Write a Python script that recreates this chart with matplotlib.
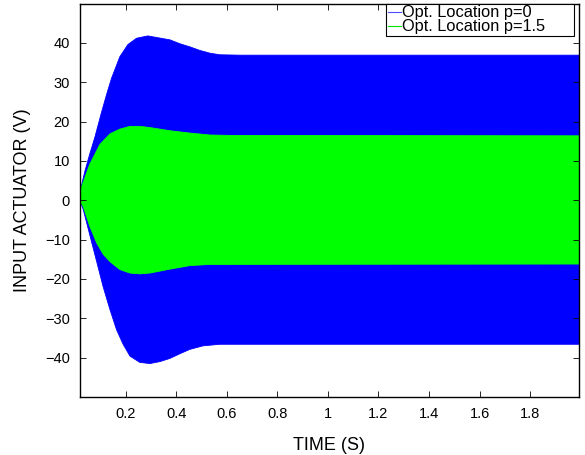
import matplotlib
matplotlib.use("Agg")
import matplotlib.pyplot as plt

# Envelope of the dense oscillating signals
blue_t_up = [0.017, 0.025, 0.038, 0.057, 0.077, 0.104, 0.124, 0.143, 0.176, 0.208,
             0.242, 0.287, 0.295, 0.374, 0.414, 0.454, 0.493, 0.533, 0.572, 0.65, 1.995]
blue_up = [0.2, 4.0, 7.5, 11.8, 16.0, 22.5, 27.0, 31.0, 36.5, 39.6,
           41.2, 41.8, 41.7, 40.8, 39.8, 39.0, 38.1, 37.4, 37.0, 36.9, 36.9]

blue_t_lo = [0.017, 0.031, 0.057, 0.084, 0.110, 0.137, 0.163, 0.189, 0.216, 0.255,
             0.295, 0.335, 0.374, 0.414, 0.453, 0.505, 0.572, 0.65, 1.995]
blue_lo = [0.0, -2.3, -8.8, -15.5, -22.0, -27.8, -32.9, -36.6, -39.6, -41.2,
           -41.5, -41.0, -40.2, -39.0, -37.9, -37.0, -36.6, -36.6, -36.6]

green_t_up = [0.017, 0.025, 0.057, 0.097, 0.137, 0.176, 0.216, 0.255, 0.295,
              0.374, 0.453, 0.533, 0.612, 1.995]
green_up = [0.5, 3.5, 9.2, 14.2, 16.9, 18.1, 18.8, 18.8, 18.5,
            17.7, 17.1, 16.6, 16.5, 16.4]

green_t_lo = [0.017, 0.031, 0.057, 0.084, 0.110, 0.137, 0.176, 0.216, 0.255,
              0.295, 0.374, 0.453, 0.533, 1.995]
green_lo = [0.0, -1.6, -6.6, -10.8, -13.7, -15.6, -17.6, -18.5, -18.7,
            -18.5, -17.5, -16.6, -16.3, -16.2]

labels = ["Opt. Location p=0", "Opt. Location p=1.5"]
xticks = [0.2, 0.4, 0.6, 0.8, 1.0, 1.2, 1.4, 1.6, 1.8]
xticklabels = ["0.2", "0.4", "0.6", "0.8", "1", "1.2", "1.4", "1.6", "1.8"]
yticks = [-40, -30, -20, -10, 0, 10, 20, 30, 40]
yticklabels = ["\u221240", "\u221230", "\u221220", "\u221210", "0", "10", "20", "30", "40"]

plt.rcParams['font.family'] = ['Liberation Sans', 'DejaVu Sans']

fig = plt.figure(figsize=(5.85, 4.55), dpi=100)
ax = fig.add_axes([0.1362, 0.1275, 0.854, 0.8645])


def fill_env(ax, t_up, up, t_lo, lo, color):
    xs = list(t_up) + list(t_lo)[::-1]
    ys = list(up) + list(lo)[::-1]
    ax.fill(xs, ys, color=color, lw=0.6, edgecolor=color, antialiased=True)


fill_env(ax, blue_t_up, blue_up, blue_t_lo, blue_lo, (0, 0, 1))
fill_env(ax, green_t_up, green_up, green_t_lo, green_lo, (0, 1, 0))

h1, = ax.plot([], [], color=(0.3, 0.3, 1), lw=0.8, label=labels[0])
h2, = ax.plot([], [], color=(0, 0.9, 0), lw=0.8, label=labels[1])

ax.set_xlim(0.017, 1.995)
ax.set_ylim(-50, 50)
ax.set_xticks(xticks)
ax.set_xticklabels(xticklabels)
ax.set_yticks(yticks)
ax.set_yticklabels(yticklabels)
ax.tick_params(direction='in', length=4, width=0.6, top=True, right=True,
               labelsize=10.5, pad=7, colors='black')
for s in ax.spines.values():
    s.set_linewidth(1.0)
    s.set_color('black')

ax.set_xlabel("TIME (S)", fontsize=13, labelpad=12)
ax.set_ylabel("INPUT ACTUATOR (V)", fontsize=13, labelpad=10)

leg = ax.legend(handles=[h1, h2], loc='upper left',
                bbox_to_anchor=(0.613, 0.914, 0.376, 0.086), mode='expand',
                borderaxespad=0, borderpad=0.1, handlelength=0.8, handletextpad=0.1,
                labelspacing=-0.05, fontsize=11.8, fancybox=False, framealpha=1,
                edgecolor='black')
leg.get_frame().set_linewidth(0.8)

fig.savefig("out.png", dpi=100)
